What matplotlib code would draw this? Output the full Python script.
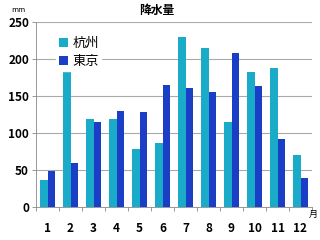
import matplotlib
matplotlib.use("Agg")
import matplotlib.pyplot as plt
import numpy as np

plt.rcParams["font.family"] = ["Noto Sans CJK JP", "DejaVu Sans"]

months = ["1", "2", "3", "4", "5", "6", "7", "8", "9", "10", "11", "12"]
hangzhou = [37, 193, 119, 119, 78, 87, 230, 215, 115, 182, 188, 71]
tokyo = [48.6, 60.2, 114.5, 130.3, 128.0, 164.9, 161.5, 155.1, 208.5, 163.1, 92.5, 39.6]
series_names = ["杭州", "東京"]

COLOR_HZ = "#1AABC9"
COLOR_TK = "#1B3EC6"

fig = plt.figure(figsize=(3.2, 2.4), dpi=100)
ax = fig.add_axes([0.1125, 0.1375, 0.8625, 0.77])

x = np.arange(len(months))
w = 0.34
ax.bar(x - w / 2, hangzhou, width=w, color=COLOR_HZ, label=series_names[0], zorder=3)
ax.bar(x + w / 2, tokyo, width=w, color=COLOR_TK, label=series_names[1], zorder=3)

ax.set_xlim(-0.5, len(months) - 0.5)
ax.set_ylim(0, 250)
ax.set_yticks([0, 50, 100, 150, 200, 250])
ax.tick_params(axis="y", labelsize=8.5, length=3, width=0.6, color="#888888", pad=2)
ax.set_xticks(x)
ax.set_xticklabels(months, fontsize=8.5, fontweight="bold")
ax.set_xticks(np.arange(len(months) + 1) - 0.5, minor=True)
ax.tick_params(axis="x", which="major", length=0, pad=11)
ax.tick_params(axis="x", which="minor", length=3, width=0.6, color="#888888")
for lab in ax.get_yticklabels():
    lab.set_fontweight("bold")

ax.grid(axis="y", color="#AAAAAA", linewidth=0.8, zorder=0)
for side in ["top", "right"]:
    ax.spines[side].set_visible(False)
ax.spines["left"].set_color("#888888")
ax.spines["bottom"].set_color("#888888")
ax.spines["left"].set_linewidth(0.6)
ax.spines["bottom"].set_linewidth(0.6)

leg = ax.legend(loc="upper left", bbox_to_anchor=(0.05, 0.97), fontsize=9.5,
                frameon=True, handlelength=0.7, handleheight=0.7,
                handletextpad=0.3, labelspacing=0.4, borderpad=0.2,
                fancybox=False, edgecolor="white", framealpha=1)
leg.set_zorder(5)

fig.text(0.49, 0.958, "降水量", ha="center", va="center", fontsize=8.5, fontweight="bold")
fig.text(0.058, 0.957, "mm", ha="center", va="center", fontsize=5.5)
fig.text(0.978, 0.105, "月", ha="center", va="center", fontsize=6.5)

fig.savefig("out.png", dpi=100)
